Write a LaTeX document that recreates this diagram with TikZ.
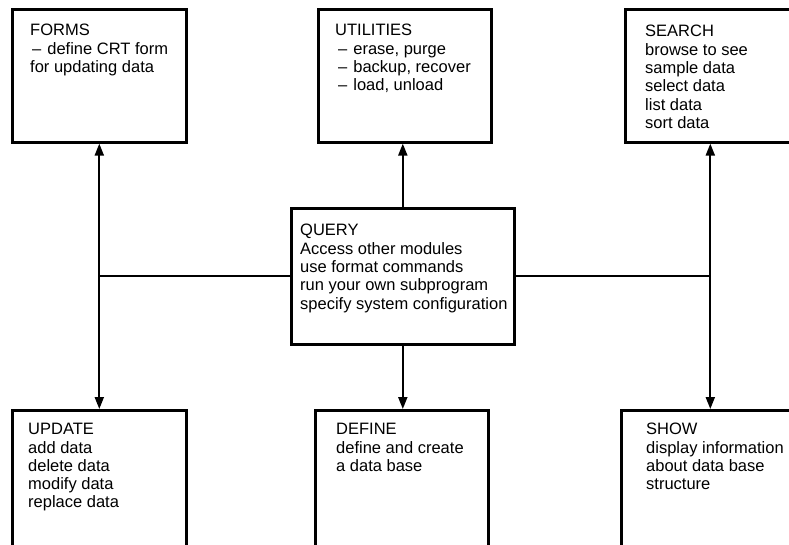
\documentclass[tikz,border=0pt]{standalone}
\usepackage{fontspec}
\setmainfont{Liberation Sans}
\usetikzlibrary{arrows.meta}
\begin{document}
\begin{tikzpicture}[x=1pt,y=-1pt,
  box/.style={draw=black, line width=2.6pt, rectangle, inner sep=0pt, anchor=north west, fill=none},
  txt/.style={anchor=north west, inner sep=0pt, align=left, font=\fontsize{16.5}{18.3}\selectfont},
  conn/.style={line width=2pt, -{Triangle[length=12pt,width=9pt]}},
  plainconn/.style={line width=2pt}]
\clip (0,0) rectangle (789,544);
\fill[white] (0,0) rectangle (789,544);
% boxes
\node[box, minimum width=174pt, minimum height=133pt] (forms) at (11,8) {};
\node[box, minimum width=173pt, minimum height=133pt] (utilities) at (317,8) {};
\node[box, minimum width=170pt, minimum height=133pt] (search) at (624,8) {};
\node[box, minimum width=223pt, minimum height=136pt] (query) at (290,207) {};
\node[box, minimum width=174pt, minimum height=150pt] (update) at (11,409) {};
\node[box, minimum width=173pt, minimum height=150pt] (define) at (314,409) {};
\node[box, minimum width=178pt, minimum height=150pt] (show) at (620,409) {};
% texts
\node[txt] (formst) at (30,24.2) {FORMS\\\hspace{2pt}–\hspace{6pt}define CRT form\\for updating data};
\node[txt] (utilitiest) at (335,24.2) {UTILITIES\\\hspace{3pt}–\hspace{6pt}erase, purge\\\hspace{3pt}–\hspace{6pt}backup, recover\\\hspace{3pt}–\hspace{6pt}load, unload};
\node[txt] (searcht) at (645,25.2) {SEARCH\\browse to see\\sample data\\select data\\list data\\sort data};
\node[txt] (queryt) at (300,224.2) {QUERY\\Access other modules\\use format commands\\run your own subprogram\\specify system configuration};
\node[txt] (updatet) at (28,423.2) {UPDATE\\add data\\delete data\\modify data\\replace data};
\node[txt] (definet) at (336,423.2) {DEFINE\\define and create\\a data base};
\node[txt] (showt) at (646,423.2) {SHOW\\display information\\about data base\\structure};
% connectors
\draw[conn] (query.west) -| (forms.south);
\draw[conn] (query.west) -| (update.north);
\draw[conn] (query.east) -| (search.south);
\draw[conn] (query.east) -| (show.north);
\draw[conn] (query.north) -- (query.north |- utilities.south);
\draw[conn] (query.south) -- (query.south |- define.north);
\end{tikzpicture}
\end{document}
